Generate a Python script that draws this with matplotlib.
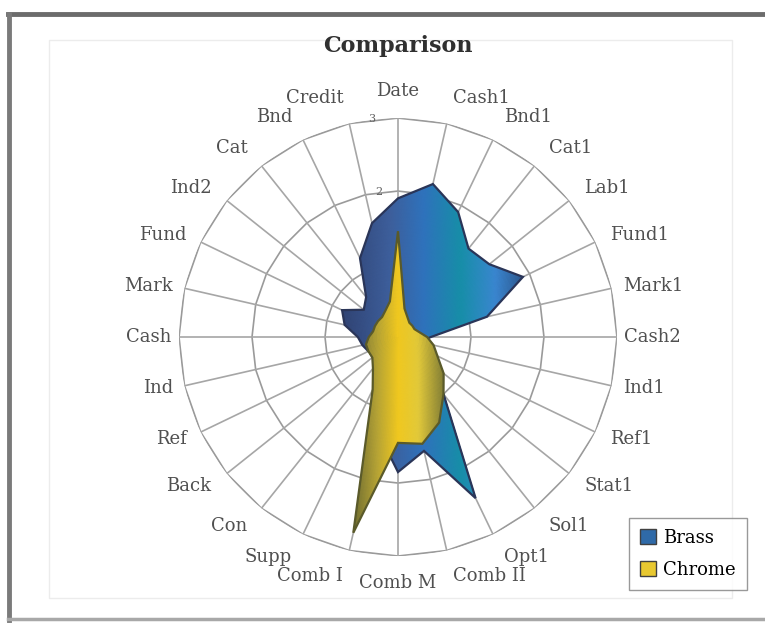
import numpy as np
import matplotlib
matplotlib.use("Agg")
import matplotlib.pyplot as plt
from matplotlib.colors import LinearSegmentedColormap
from matplotlib.lines import Line2D
from matplotlib.patches import Patch, Rectangle

# spokes, clockwise from the top
categories = ["Date", "Cash1", "Bnd1", "Cat1", "Lab1", "Fund1", "Mark1",
              "Cash2", "Ind1", "Ref1", "Stat1", "Sol1", "Opt1", "Comb II",
              "Comb M", "Comb I", "Supp", "Con", "Back", "Ref", "Ind",
              "Cash", "Mark", "Fund", "Ind2", "Cat", "Bnd", "Credit"]
brass = [1.9, 2.15, 1.9, 1.55, 1.6, 1.9, 1.25, 0.45, 0.3, 0.35, 0.5, 1.0,
         2.45, 1.6, 1.85, 1.3, 0.6, 0.5, 0.4, 0.45, 0.5, 0.55, 0.75, 0.85,
         0.6, 0.7, 1.2, 1.6]
chrome = [1.45, 0.4, 0.3, 0.25, 0.25, 0.25, 0.3, 0.4, 0.5, 0.6, 0.8, 1.0,
          1.3, 1.5, 1.45, 2.75, 0.8, 0.55, 0.45, 0.45, 0.45, 0.4, 0.35, 0.35,
          0.35, 0.35, 0.4, 0.5]
series_names = ["Brass", "Chrome"]
ring_levels = [1, 2, 3]

SERIF = "DejaVu Serif"

fig = plt.figure(figsize=(7.65, 6.23), dpi=100)

# window-like frame around the chart
fig.add_artist(Line2D([0.010, 1.0], [0.978, 0.978], color="#6c6c6c", lw=3.5, transform=fig.transFigure))
fig.add_artist(Line2D([0.012, 0.012], [0.005, 0.978], color="#7a7a7a", lw=3.5, transform=fig.transFigure))
fig.add_artist(Line2D([0.010, 1.0], [0.006, 0.006], color="#a8a8a8", lw=2.5, transform=fig.transFigure))
fig.add_artist(Rectangle((0.064, 0.04), 0.893, 0.895, fill=False, ec="#ececec", lw=1, transform=fig.transFigure))

fig.text(0.520, 0.926, "Comparison", ha="center", va="center", fontsize=16,
         fontweight="bold", family=SERIF, color="#303030")

ax = fig.add_axes([0.234, 0.1075, 0.5725, 0.703], projection="polar")
ax.set_theta_zero_location("N")
ax.set_theta_direction(-1)
ax.set_ylim(0, 3)
ax.grid(False)
ax.set_xticks([])
ax.set_yticks([])
ax.spines["polar"].set_visible(False)
ax.patch.set_alpha(0)

n = len(categories)
theta = np.linspace(0, 2 * np.pi, n, endpoint=False)
closed = np.append(theta, theta[0])

for lvl in ring_levels:
    ax.plot(closed, [lvl] * (n + 1), color="#9a9a9a", lw=1.2, zorder=1)
    ax.text(np.deg2rad(-6), lvl, str(lvl), fontsize=8, family=SERIF,
            color="#606060", ha="right", va="center", zorder=1)
for t in theta:
    ax.plot([t, t], [0, 3], color="#a6a6a6", lw=1.2, zorder=1)

# gradient fills clipped to each series polygon
tt, rr = np.meshgrid(np.linspace(0, 2 * np.pi, 361), np.linspace(0, 3, 61))
xx = rr * np.sin(tt)

blue_cmap = LinearSegmentedColormap.from_list(
    "blu", [(0.0, "#2c3a66"), (0.3, "#3d5f9c"), (0.45, "#2f72bc"),
            (0.62, "#178ea8"), (0.78, "#3a86d0"), (1.0, "#23365e")])
gold_cmap = LinearSegmentedColormap.from_list(
    "gld", [(0.0, "#5e6030"), (0.3, "#b8a535"), (0.5, "#f0c820"),
            (0.7, "#e2c93a"), (1.0, "#707035")])


def gradient_fill(values, cmap, vmin, vmax, edge, z):
    poly = ax.fill(closed, np.append(values, values[0]), facecolor="none",
                   edgecolor=edge, lw=1.6, zorder=z + 1)[0]
    mesh = ax.pcolormesh(tt, rr, xx, cmap=cmap, vmin=vmin, vmax=vmax,
                         shading="gouraud", zorder=z)
    mesh.set_clip_path(poly)


gradient_fill(brass, blue_cmap, -1.0, 2.0, "#2a3558", 3)
gradient_fill(chrome, gold_cmap, -0.7, 0.7, "#5a5a2a", 5)

for t, lab in zip(theta, categories):
    s, c = np.sin(t), np.cos(t)
    ha = "left" if s > 0.1 else ("right" if s < -0.1 else "center")
    ax.text(t, 3.1 + 0.27 * abs(c), lab, ha=ha, va="center", fontsize=13,
            family=SERIF, color="#505050")

handles = [Patch(facecolor="#2f6aa8", edgecolor="#404040"),
           Patch(facecolor="#e8c830", edgecolor="#404040")]
fig.legend(handles, series_names, loc="lower right", bbox_to_anchor=(0.976, 0.053),
           borderaxespad=0, frameon=True, fancybox=False, edgecolor="#808080",
           prop={"family": SERIF, "size": 13}, handlelength=0.9, handleheight=0.9,
           handletextpad=0.4, borderpad=0.6, labelspacing=0.8)

fig.savefig("out.png", dpi=100, facecolor="white")
